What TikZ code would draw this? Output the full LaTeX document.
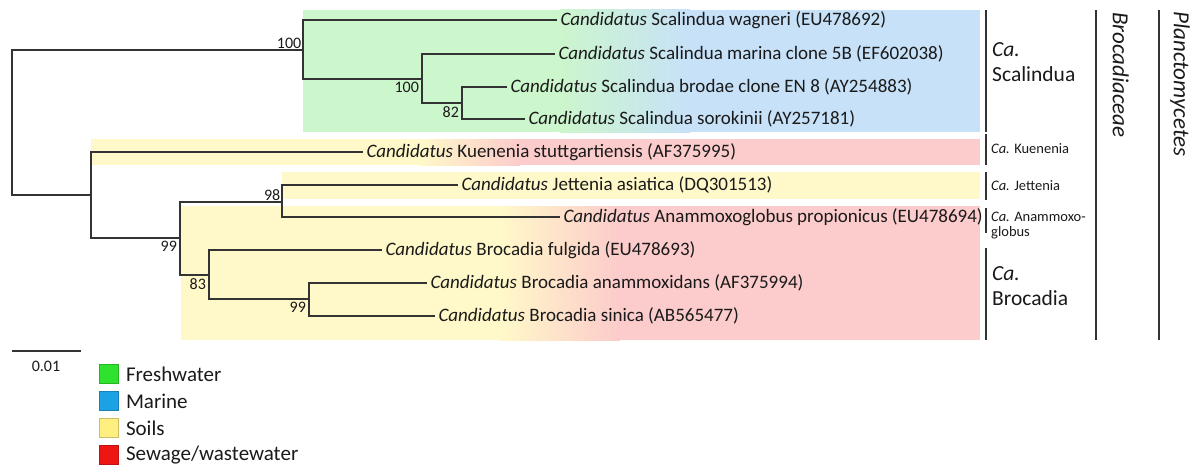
\documentclass[tikz,border=0pt]{standalone}
\usepackage{fontspec}
\setmainfont{Carlito}
\usetikzlibrary{positioning}

\definecolor{freshbg}{HTML}{CCF6CC}
\definecolor{marinebg}{HTML}{C7E1F8}
\definecolor{soilbg}{HTML}{FFF9C9}
\definecolor{sewagebg}{HTML}{FCCBCB}
\definecolor{freshleg}{HTML}{2EE22E}
\definecolor{marineleg}{HTML}{1CA2E4}
\definecolor{soilleg}{HTML}{FFEE80}
\definecolor{sewageleg}{HTML}{EE1515}
\definecolor{linegray}{HTML}{333333}
\definecolor{txt}{HTML}{1A1A1A}

\begin{document}
\begin{tikzpicture}[x=1pt,y=-1pt,
    branch/.style={line width=1.2pt,draw=linegray},
    leaf/.style={anchor=west,inner xsep=3.5pt,inner ysep=0pt,outer sep=0pt,text=txt,
      font=\fontsize{19}{22}\selectfont},
    boot/.style={inner sep=1.5pt,text=txt,font=\fontsize{16}{18}\selectfont},
    bigclade/.style={anchor=north west,align=left,inner sep=0pt,text=txt,
      font=\fontsize{21.5}{25}\selectfont},
    smallclade/.style={anchor=west,align=left,inner sep=0pt,text=txt,
      font=\fontsize{14.5}{15}\selectfont},
    taxon/.style={rotate=-90,anchor=north west,inner sep=0pt,text=txt,
      font=\itshape\fontsize{23}{25}\selectfont},
    legbox/.style={minimum size=19pt,inner sep=0pt,line width=.6pt},
    legtext/.style={inner sep=0pt,text=txt,font=\fontsize{21}{23}\selectfont}]
\useasboundingbox (0,0) rectangle (1198,468);

% habitat backgrounds
\fill[marinebg] (303,10) rectangle (980,132);
\fill[freshbg] (303,10) rectangle (560,132);
\shade[left color=freshbg,right color=marinebg] (559.5,10) rectangle (690,132);
\fill[sewagebg] (91,139) rectangle (980,165);
\fill[soilbg] (91,139) rectangle (420,165);
\shade[left color=soilbg,right color=sewagebg] (419.5,139) rectangle (520,165);
\fill[soilbg] (282,172) rectangle (980,199);
\fill[sewagebg] (181,206) rectangle (980,340);
\fill[soilbg] (181,206) rectangle (500,340);
\shade[left color=soilbg,right color=sewagebg] (499.5,206) rectangle (620,340);

% inner nodes of the tree
\coordinate (root) at (12,122);
\coordinate (sc) at (303,50);
\coordinate (n2) at (422,79);
\coordinate (n3) at (462,103);
\coordinate (kb) at (91,195);
\coordinate (jb) at (180,238);
\coordinate (ja) at (282,202);
\coordinate (br) at (209,275);
\coordinate (bs) at (309,299);

% leaves
\foreach \n/\x/\y/\t in {wag/557/20/{Scalindua wagneri (EU478692)},
    mar/555/54/{Scalindua marina clone 5B (EF602038)},
    bro/507/87/{Scalindua brodae clone EN 8 (AY254883)},
    sor/525/119/{Scalindua sorokinii (AY257181)},
    kue/363/152/{Kuenenia stuttgartiensis (AF375995)},
    jet/458/185/{Jettenia asiatica (DQ301513)},
    ana/560/217/{Anammoxoglobus propionicus (EU478694)},
    ful/382/250/{Brocadia fulgida (EU478693)},
    amx/427/283/{Brocadia anammoxidans (AF375994)},
    sin/435/316/{Brocadia sinica (AB565477)}} {
    \node[leaf] (\n) at (\x,\y) {\textit{Candidatus} \t};}

% branches
\draw[branch] (root) |- (sc) (root) |- (kb);
\draw[branch] (sc) |- (wag) (sc) |- (n2);
\draw[branch] (n2) |- (mar) (n2) |- (n3);
\draw[branch] (n3) |- (bro) (n3) |- (sor);
\draw[branch] (kb) |- (kue) (kb) |- (jb);
\draw[branch] (jb) |- (ja) (jb) |- (br);
\draw[branch] (ja) |- (jet) (ja) |- (ana);
\draw[branch] (br) |- (ful) (br) |- (bs);
\draw[branch] (bs) |- (amx) (bs) |- (sin);

% bootstrap values
\node[boot,above left] (bsc) at (sc) {100};
\node[boot,below left=2pt] (bn2) at (n2) {100};
\node[boot,below left=2pt] (bn3) at (n3) {82};
\node[boot,above left] (bja) at (ja) {98};
\node[boot,below left=2pt] (bjb) at (jb) {99};
\node[boot,below left=2pt] (bbr) at (br) {83};
\node[boot,below left=2pt] (bbs) at (bs) {99};

% scale bar
\draw[branch] (12,351) -- (81,351);
\node[boot] (scl) at (46,366) {0.01};

% clades
\draw[branch] (986,10) -- (986,132);
\draw[branch] (986,134) -- (986,165);
\draw[branch] (986,172) -- (986,200);
\draw[branch] (986,208) -- (986,233);
\draw[branch] (986,248) -- (986,340);
\draw[branch] (1096,10) -- (1096,340);
\draw[branch] (1159,10) -- (1159,340);
\node[bigclade] (lsca) at (992,42) {\textit{Ca.}\\Scalindua};
\node[smallclade] (lkue) at (991,149) {\textit{Ca.} Kuenenia};
\node[smallclade] (ljet) at (991,186) {\textit{Ca.} Jettenia};
\node[smallclade,anchor=north west] (lana) at (991,212) {\textit{Ca.} Anammoxo-\\globus};
\node[bigclade] (lbro) at (992,266) {\textit{Ca.}\\Brocadia};
\node[taxon] (lfam) at (1129,12) {Brocadiaceae};
\node[taxon] (lphy) at (1190,11) {Planctomycetes};

% legend
\foreach \n/\c/\y/\t in {fw/freshleg/374/Freshwater,mr/marineleg/401/Marine,
    so/soilleg/428/Soils,sw/sewageleg/455/{Sewage/wastewater}} {
    \node[legbox,fill=\c,draw=\c!80!black] (k\n) at (109,\y) {};
    \node[legtext,right=7pt of k\n] (t\n) {\t};}
\end{tikzpicture}
\end{document}
